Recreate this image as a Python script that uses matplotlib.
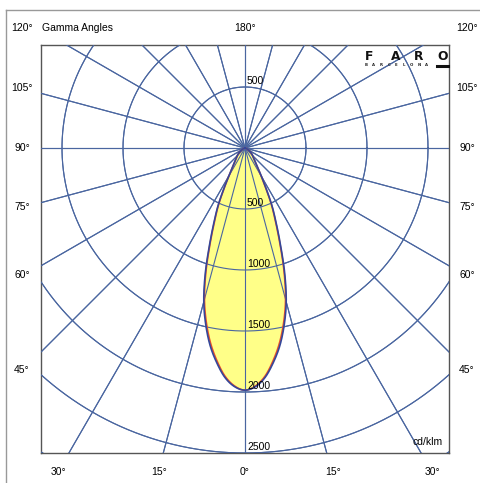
import numpy as np
import matplotlib
matplotlib.use('Agg')
import matplotlib.pyplot as plt
from matplotlib.lines import Line2D

# ---- data ----
gamma_deg = [0, 2.5, 5, 7.5, 10, 12.5, 15, 17.5, 20, 22.5, 25, 27.5, 30, 32.5, 35,
             40, 45, 50, 55, 60, 70, 80, 90]
c0_180 = [1985, 1958, 1888, 1775, 1645, 1485, 1305, 1085, 855, 670, 525, 375, 272, 202, 160,
          115, 90, 70, 50, 32, 12, 3, 0]
c90_270 = [1985, 1953, 1878, 1760, 1625, 1465, 1285, 1067, 840, 656, 514, 366, 266, 197, 156,
           112, 88, 68, 49, 31, 12, 3, 0]
circle_values = [500, 1000, 1500, 2000, 2500, 3000, 3500]
radial_labels = ['500', '1000', '1500', '2000', '2500']
grid_step_deg = 15
side_labels = ['120°', '105°', '90°', '75°', '60°', '45°']
side_label_y_px = [28, 88, 148, 207, 275, 370]
bottom_labels = ['30°', '15°', '0°', '15°', '30°']
bottom_label_x_px = [58, 159, 245, 333, 432]

W, H = 480, 483
plt.rcParams['font.family'] = ['Liberation Sans', 'DejaVu Sans']
fig = plt.figure(figsize=(W / 100, H / 100), dpi=100)
fig.patch.set_facecolor('white')

# axes box in pixels
L, R, T, B = 41, 449, 45, 453
ax = fig.add_axes([L / W, 1 - B / H, (R - L) / W, (B - T) / H])
cx_px, cy_px = 245, 148
k = 2500 / (B - cy_px)  # cd per pixel
ax.set_xlim(-(cx_px - L) * k, (R - cx_px) * k)
ax.set_ylim(-(B - cy_px) * k, (cy_px - T) * k)
ax.set_aspect('equal', adjustable='box')
ax.set_xticks([])
ax.set_yticks([])
for s in ax.spines.values():
    s.set_color('#555555')
    s.set_linewidth(1.0)

grid_color = '#4a66a0'
th = np.linspace(0, 2 * np.pi, 721)


def draw_grid(z):
    for r in circle_values:
        ax.plot(r * np.cos(th), r * np.sin(th), color=grid_color, lw=0.8, zorder=z)
    for a in np.arange(0, 360, grid_step_deg):
        ar = np.deg2rad(a)
        ax.plot([0, 5000 * np.sin(ar)], [0, -5000 * np.cos(ar)], color=grid_color, lw=0.8, zorder=z)


def hermite(xk, yk, xs):
    xk = np.asarray(xk, float)
    yk = np.asarray(yk, float)
    m = np.zeros_like(yk)
    m[1:-1] = (yk[2:] - yk[:-2]) / (xk[2:] - xk[:-2])
    m[0] = (yk[1] - yk[0]) / (xk[1] - xk[0])
    m[-1] = (yk[-1] - yk[-2]) / (xk[-1] - xk[-2])
    idx = np.clip(np.searchsorted(xk, xs) - 1, 0, len(xk) - 2)
    x0, x1 = xk[idx], xk[idx + 1]
    h = x1 - x0
    t = (xs - x0) / h
    h00 = 2 * t**3 - 3 * t**2 + 1
    h10 = t**3 - 2 * t**2 + t
    h01 = -2 * t**3 + 3 * t**2
    h11 = t**3 - t**2
    return h00 * yk[idx] + h10 * h * m[idx] + h01 * yk[idx + 1] + h11 * h * m[idx + 1]


def curve(vals):
    g = np.array(gamma_deg, float)
    v = np.array(vals, float)
    gg = np.concatenate([-g[::-1], g[1:]])
    vv = np.concatenate([v[::-1], v[1:]])
    fine = np.linspace(-90, 90, 1441)
    iv = np.maximum(hermite(gg, vv, fine), 0)
    fr = np.deg2rad(fine)
    return iv * np.sin(fr), -iv * np.cos(fr)


draw_grid(1)
x0, y0 = curve(c0_180)
x1, y1 = curve(c90_270)
ax.fill(x0, y0, color='#ffff88', zorder=2, lw=0)
draw_grid(3)
ax.plot(x1, y1, color='#e8502a', lw=1.2, zorder=4)
ax.plot(x0, y0, color='#34479a', lw=1.2, zorder=5)

# radial value labels
ax.text(16, 500 + 10, '500', fontsize=7.5, ha='left', va='bottom', zorder=6)
for lab, r in zip(radial_labels, circle_values):
    ax.text(16, -r + 10, lab, fontsize=7.5, ha='left', va='bottom', zorder=6)
ax.text(0.985, 0.015, 'cd/klm', transform=ax.transAxes, fontsize=7.5,
        ha='right', va='bottom', zorder=6)


# logo (positions in figure pixels)
def px(xp, yp):
    return xp / W, 1 - yp / H


for letter, xp in zip(['F', 'A', 'R', 'O'], [369, 396, 419, 442.5]):
    fig.text(*px(xp, 57), letter, fontsize=8.8, fontweight='bold', family='DejaVu Sans',
             ha='center', va='center', color='#111111')
for i, letter in enumerate('BARCELONA'):
    fig.text(*px(366 + i * 7.6, 65.5), letter, fontsize=2.8, fontweight='bold',
             family='DejaVu Sans', ha='center', va='center', color='#222222')
fig.add_artist(Line2D([437 / W, 448 / W], [1 - 65.5 / H, 1 - 65.5 / H],
                      transform=fig.transFigure, color='#111111', lw=2.2))


# outside labels
def ft(xp, yp, s, ha='center'):
    fig.text(xp / W, 1 - yp / H, s, fontsize=7.5, ha=ha, va='center')


for lab, yp in zip(side_labels, side_label_y_px):
    ft(22, yp, lab)
    ft(467, yp, lab)
for lab, xp in zip(bottom_labels, bottom_label_x_px):
    ft(xp, 472, lab)
ft(245, 28, '180°')
ft(42, 28, 'Gamma Angles', ha='left')

# outer frame
fig.add_artist(Line2D([6 / W, 1.0], [1 - 10 / H, 1 - 10 / H], transform=fig.transFigure,
                      color='#999999', lw=1.0))
fig.add_artist(Line2D([6 / W, 6 / W], [1 - 10 / H, 0.0], transform=fig.transFigure,
                      color='#999999', lw=1.0))

fig.savefig('out.png', dpi=100, facecolor='white')
